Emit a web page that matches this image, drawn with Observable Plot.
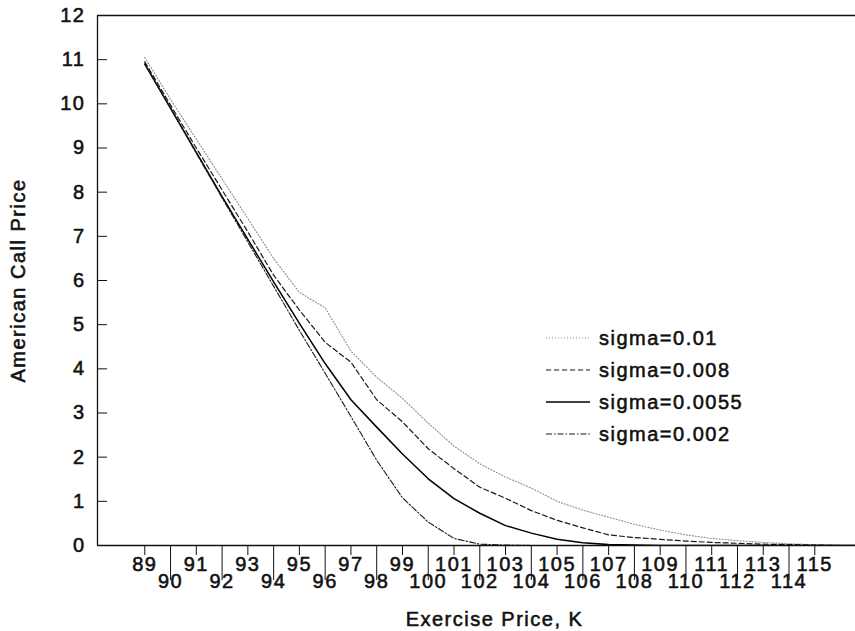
<!DOCTYPE html>
<html>
<head>
<meta charset="utf-8">
<script src="https://cdn.jsdelivr.net/npm/d3@7"></script>
<script src="https://cdn.jsdelivr.net/npm/@observablehq/plot@0.6"></script>
<style>
  html, body { margin: 0; padding: 0; background: #fff; }
  #wrap { position: relative; width: 855px; height: 631px; font-family: "Liberation Sans", Arial, sans-serif; }
  #wrap svg text { stroke: #111; stroke-width: 0.55px; }
  #legend { position: absolute; left: 546px; top: 322px; }
  .row { display: flex; align-items: center; height: 32px; font-size: 20px; letter-spacing: 1.5px; color: #111; -webkit-text-stroke: 0.55px #111; }
  .row svg { width: 44px; height: 10px; margin-right: 9px; }
</style>
</head>
<body>
<div id="wrap"></div>
<script>
// Exercise prices (x)
const strikes = [89, 90, 91, 92, 93, 94, 95, 96, 97, 98, 99, 100, 101, 102, 103, 104, 105, 106, 107, 108, 109, 110, 111, 112, 113, 114, 115, 116, 117];
// American call prices per sigma
const sigma010  = [11.05, 10.1, 9.2, 8.3, 7.4, 6.5, 5.73, 5.38, 4.4, 3.81, 3.33, 2.77, 2.25, 1.85, 1.55, 1.3, 1.0, 0.8, 0.64, 0.48, 0.35, 0.24, 0.16, 0.11, 0.07, 0.04, 0.02, 0.01, 0.005];
const sigma008  = [10.95, 9.97, 9.0, 8.05, 7.1, 6.12, 5.33, 4.6, 4.15, 3.3, 2.8, 2.19, 1.74, 1.32, 1.07, 0.79, 0.57, 0.4, 0.24, 0.18, 0.14, 0.1, 0.07, 0.05, 0.03, 0.02, 0.01, 0, 0];
const sigma0055 = [10.9, 9.9, 8.9, 7.9, 6.93, 5.97, 5.03, 4.12, 3.3, 2.68, 2.07, 1.51, 1.06, 0.73, 0.45, 0.28, 0.14, 0.06, 0.02, 0.01, 0, 0, 0, 0, 0, 0, 0, 0, 0];
const sigma002  = [10.9, 9.9, 8.88, 7.87, 6.87, 5.87, 4.87, 3.9, 2.92, 1.93, 1.08, 0.53, 0.16, 0.03, 0.01, 0, 0, 0, 0, 0, 0, 0, 0, 0, 0, 0, 0, 0, 0];
const seriesNames = ["sigma=0.01", "sigma=0.008", "sigma=0.0055", "sigma=0.002"];
// Tick labels
const yTicks = [0, 1, 2, 3, 4, 5, 6, 7, 8, 9, 10, 11, 12];
const oddTicks = [89, 91, 93, 95, 97, 99, 101, 103, 105, 107, 109, 111, 113, 115];
const evenTicks = [90, 92, 94, 96, 98, 100, 102, 104, 106, 108, 110, 112, 114];
const xDomain = [87.165, 116.58];
const yDomain = [0, 12];

const styles = [
  {stroke: "#8a8a8a", strokeWidth: 1.1, strokeDasharray: "1,2"},
  {stroke: "#1a1a1a", strokeWidth: 1.2, strokeDasharray: "5,3"},
  {stroke: "#000", strokeWidth: 1.5, strokeDasharray: null},
  {stroke: "#1a1a1a", strokeWidth: 1.1, strokeDasharray: "6,2,1.5,2"}
];
const allSeries = [sigma010, sigma008, sigma0055, sigma002];
const lineMarks = allSeries.map((vals, i) => {
  const data = strikes.map((k, j) => ({k, v: vals[j]}));
  const s = styles[i];
  const opts = {x: "k", y: "v", stroke: s.stroke, strokeWidth: s.strokeWidth, clip: true};
  if (s.strokeDasharray) opts.strokeDasharray = s.strokeDasharray;
  return Plot.line(data, opts);
});

const chart = Plot.plot({
  width: 855,
  height: 631,
  marginLeft: 97,
  marginRight: 0,
  marginTop: 15,
  marginBottom: 86,
  x: {domain: xDomain},
  y: {domain: yDomain},
  style: {fontFamily: "'Liberation Sans', Arial, sans-serif", fontSize: "20px", color: "#111", background: "#fff", letterSpacing: "1.5px"},
  marks: [
    Plot.ruleY([yDomain[1]], {stroke: "#111", strokeWidth: 1.3}),
    Plot.ruleY([yDomain[0]], {stroke: "#111", strokeWidth: 1.5}),
    Plot.ruleX([xDomain[0]], {stroke: "#111", strokeWidth: 1.3}),
    Plot.axisY(yTicks, {anchor: "left", tickSize: -10, tickFormat: () => "", label: null, stroke: "#111"}),
    Plot.axisY(yTicks, {anchor: "left", tickSize: 0, tickPadding: 12, label: null, fill: "#111"}),
    Plot.axisX(oddTicks, {anchor: "bottom", tickSize: 10, tickPadding: 1, label: null, fill: "#111", stroke: "#111"}),
    Plot.axisX(evenTicks, {anchor: "bottom", tickSize: 35, tickFormat: () => "", label: null, stroke: "#111"}),
    Plot.axisX(evenTicks, {anchor: "bottom", tickSize: 0, tickPadding: 28, label: null, fill: "#111"}),
    ...lineMarks,
    Plot.text(["Exercise Price, K"], {frameAnchor: "bottom", textAnchor: "middle", dx: 18, dy: 80, fill: "#111", fontSize: 20}),
    Plot.text(["American Call Price"], {frameAnchor: "left", textAnchor: "middle", dx: -79, rotate: -90, fill: "#111", fontSize: 20, letterSpacing: "2px"})
  ]
});

const wrap = document.getElementById("wrap");
wrap.appendChild(chart);

const legend = document.createElement("div");
legend.id = "legend";
seriesNames.forEach((name, i) => {
  const s = styles[i];
  const row = document.createElement("div");
  row.className = "row";
  row.innerHTML = `<svg viewBox="0 0 44 10"><line x1="0" y1="5" x2="44" y2="5" stroke="${s.stroke}" stroke-width="${s.strokeWidth}" ${s.strokeDasharray ? `stroke-dasharray="${s.strokeDasharray}"` : ""}/></svg><span>${name}</span>`;
  legend.appendChild(row);
});
wrap.appendChild(legend);
</script>
</body>
</html>
